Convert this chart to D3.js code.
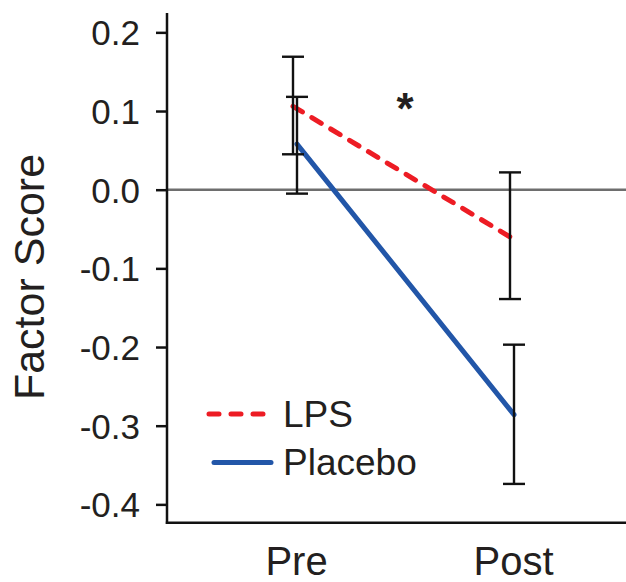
<!DOCTYPE html>
<html>
<head>
<meta charset="utf-8">
<script src="https://cdn.jsdelivr.net/npm/d3@7"></script>
<style>
  body { margin: 0; background: #fff; }
  svg { display: block; font-family: "Liberation Sans", Arial, sans-serif; }
</style>
</head>
<body>
<div id="chart"></div>
<script>
// data
const times = ["Pre", "Post"];
const seriesNames = ["LPS", "Placebo"];
const lpsMean = [0.106, -0.060];
const lpsLow = [0.045, -0.139];
const lpsHigh = [0.169, 0.022];
const placeboMean = [0.058, -0.286];
const placeboLow = [-0.005, -0.374];
const placeboHigh = [0.118, -0.197];
const yTicks = [0.2, 0.1, 0.0, -0.1, -0.2, -0.3, -0.4];

const width = 626, height = 582;
const colors = { LPS: "#ed1c24", Placebo: "#2256a8" };
const offsets = { LPS: -2, Placebo: 2 };

const series = [
    { name: "LPS", mean: lpsMean, low: lpsLow, high: lpsHigh },
    { name: "Placebo", mean: placeboMean, low: placeboLow, high: placeboHigh }
];

const svg = d3.select("#chart").append("svg")
    .attr("width", width)
    .attr("height", height)
    .attr("viewBox", [0, 0, width, height]);

const x = d3.scalePoint().domain(times).range([295, 512]);
const y = d3.scaleLinear().domain([-0.4233, 0.2246]).range([522.7, 13]);
const axisX = 167;

// zero line
svg.append("line")
    .attr("x1", axisX).attr("x2", width)
    .attr("y1", y(0)).attr("y2", y(0))
    .attr("stroke", "#6e6e6e")
    .attr("stroke-width", 2.5);

// y axis, hyphen instead of unicode minus like the original
const fmt = d => d3.format(".1f")(d).replace("−", "-");
const yAxis = svg.append("g")
    .attr("transform", `translate(${axisX},0)`)
    .call(d3.axisLeft(y).tickValues(yTicks).tickSize(11).tickPadding(16).tickFormat(fmt));
yAxis.select(".domain").remove();
yAxis.selectAll(".tick line").attr("stroke", "#111").attr("stroke-width", 2.5);
yAxis.selectAll(".tick text")
    .attr("fill", "#231f20")
    .style("font-size", "35px")
    .attr("dy", "0.36em");

svg.append("line")
    .attr("x1", axisX).attr("x2", axisX)
    .attr("y1", y.range()[1]).attr("y2", y.range()[0] + 1.2)
    .attr("stroke", "#111").attr("stroke-width", 2.5);
svg.append("line")
    .attr("x1", axisX - 1.2).attr("x2", width)
    .attr("y1", y.range()[0]).attr("y2", y.range()[0])
    .attr("stroke", "#111").attr("stroke-width", 2.5);

// x labels
svg.append("g").selectAll("text")
    .data(times)
    .join("text")
        .attr("x", d => x(d) + 1.5)
        .attr("y", 575)
        .attr("text-anchor", "middle")
        .attr("fill", "#231f20")
        .style("font-size", "40px")
        .text(d => d);

// y label
svg.append("text")
    .attr("transform", "translate(44,277) rotate(-90)")
    .attr("text-anchor", "middle")
    .attr("fill", "#231f20")
    .style("font-size", "43px")
    .text("Factor Score");

// series lines
const line = d3.line()
    .x((d, i) => x(times[i]))
    .y(d => y(d));

svg.append("g").selectAll("path")
    .data(series)
    .join("path")
        .attr("transform", d => `translate(${offsets[d.name]},0)`)
        .attr("d", d => line(d.mean))
        .attr("fill", "none")
        .attr("stroke", d => colors[d.name])
        .attr("stroke-width", 5)
        .attr("stroke-linecap", "round")
        .attr("stroke-dasharray", d => d.name === "LPS" ? "11 11" : null);

// error bars
const bars = svg.append("g")
    .attr("stroke", "#111")
    .attr("stroke-width", 2.4)
    .selectAll("g")
    .data(series.flatMap(s => times.map((t, i) => ({ name: s.name, t, low: s.low[i], high: s.high[i] }))))
    .join("g")
        .attr("transform", d => `translate(${x(d.t) + offsets[d.name]},0)`);
bars.append("line")
    .attr("y1", d => y(d.low)).attr("y2", d => y(d.high));
bars.append("line")
    .attr("x1", -11).attr("x2", 11)
    .attr("y1", d => y(d.low)).attr("y2", d => y(d.low));
bars.append("line")
    .attr("x1", -11).attr("x2", 11)
    .attr("y1", d => y(d.high)).attr("y2", d => y(d.high));

// significance mark
svg.append("text")
    .attr("x", 405)
    .attr("y", 124)
    .attr("text-anchor", "middle")
    .attr("fill", "#231f20")
    .style("font-size", "44px")
    .style("font-weight", "bold")
    .text("*");

// legend
const legend = svg.append("g").selectAll("g")
    .data(seriesNames)
    .join("g")
        .attr("transform", (d, i) => `translate(0,${414 + i * 48.5})`);
legend.append("line")
    .attr("x1", (d, i) => i === 0 ? 209 : 214)
    .attr("x2", 271)
    .attr("stroke", d => colors[d])
    .attr("stroke-width", 5)
    .attr("stroke-linecap", "round")
    .attr("stroke-dasharray", d => d === "LPS" ? "10 12" : null);
legend.append("text")
    .attr("x", 283)
    .attr("y", 12.5)
    .attr("fill", "#231f20")
    .style("font-size", "37px")
    .text(d => d);
</script>
</body>
</html>
